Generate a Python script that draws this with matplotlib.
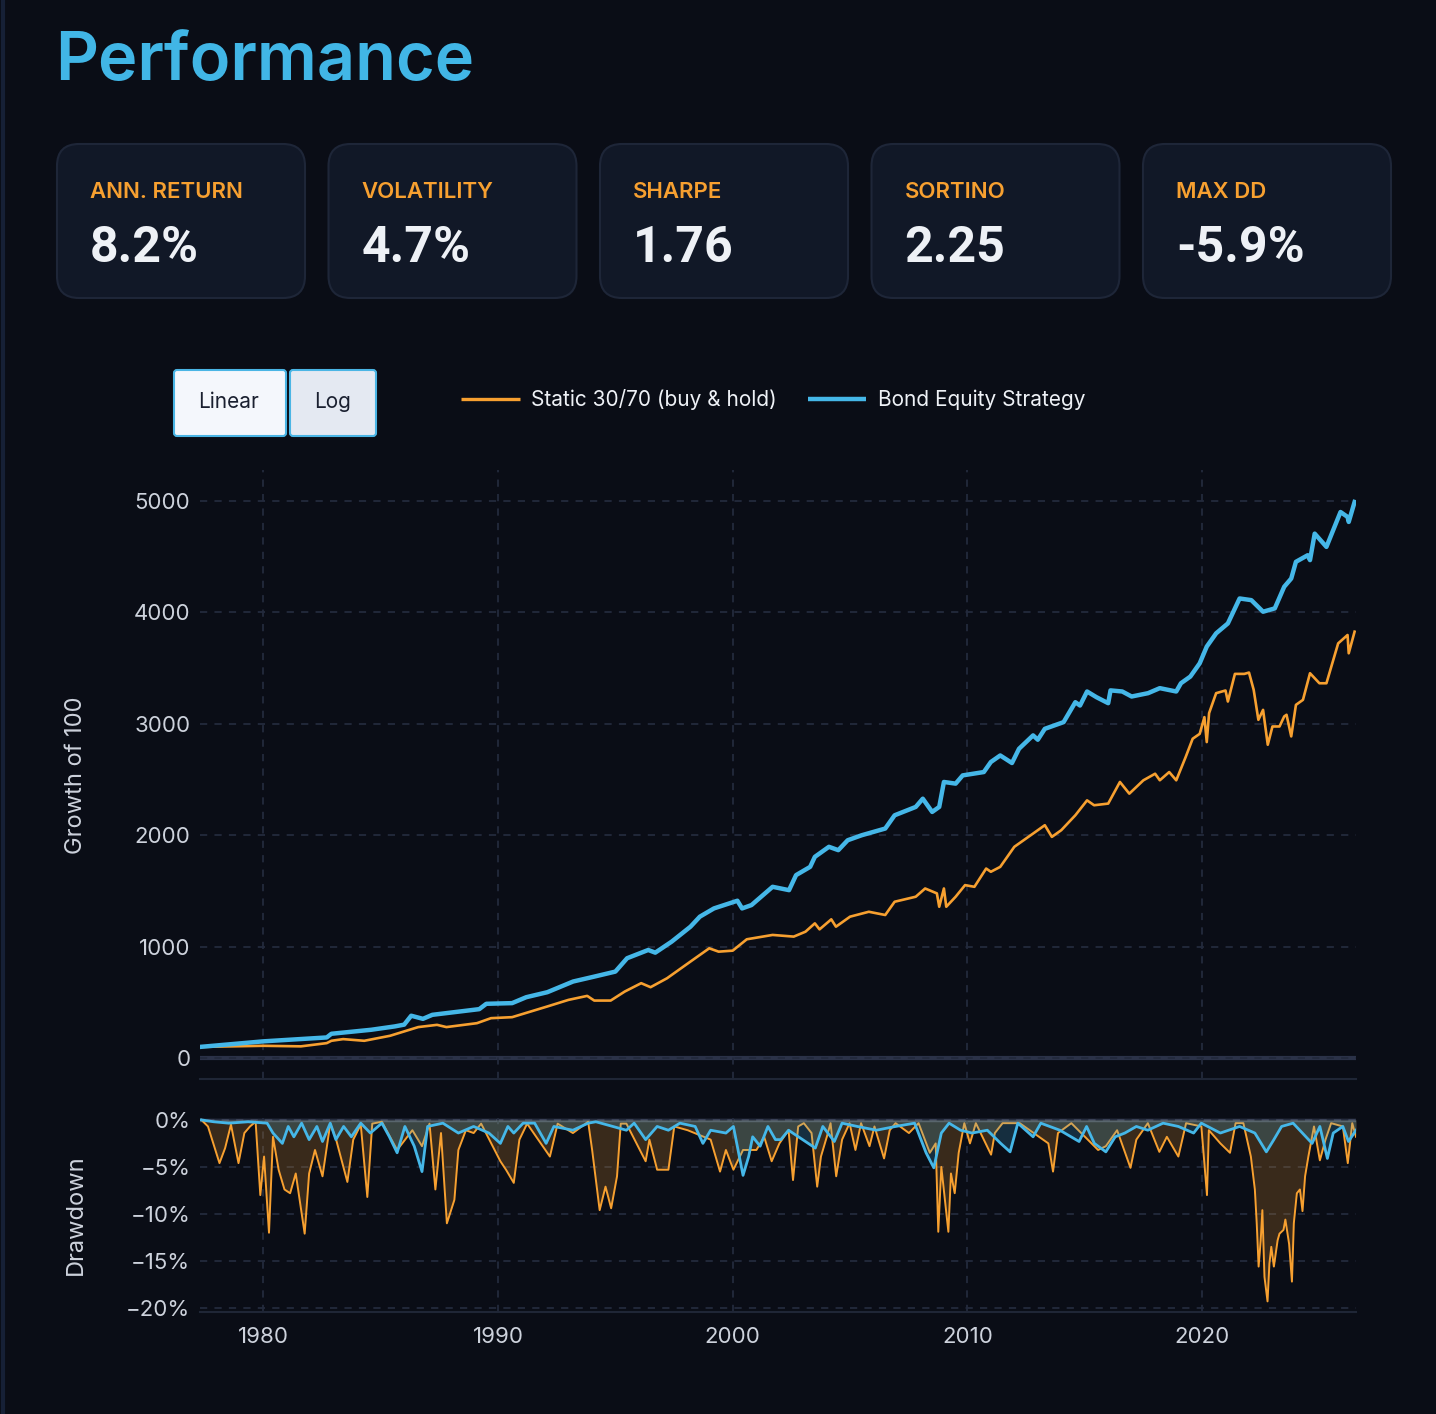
import matplotlib
matplotlib.use('Agg')
import matplotlib.pyplot as plt
from matplotlib.patches import FancyBboxPatch

plt.rcParams['font.family'] = ['Inter', 'DejaVu Sans']

# ---- data ----
kpi_labels = ['ANN. RETURN', 'VOLATILITY', 'SHARPE', 'SORTINO', 'MAX DD']
kpi_values = ['8.2%', '4.7%', '1.76', '2.25', '-5.9%']

series_names = ['Static 30/70 (buy & hold)', 'Bond Equity Strategy']

static_years = [1977.3, 1980.0, 1981.6, 1982.7, 1982.9, 1983.4, 1984.3, 1985.4, 1986.0, 1986.6,
                1987.4, 1987.8, 1989.1, 1989.7, 1990.6, 1992.1, 1993.0, 1993.8, 1994.1, 1994.8,
                1995.4, 1996.1, 1996.5, 1997.2, 1998.2, 1999.0, 1999.4, 2000.0, 2000.6, 2001.7,
                2002.6, 2003.1, 2003.5, 2003.7, 2004.2, 2004.4, 2005.0, 2005.8, 2006.5, 2006.9,
                2007.8, 2008.2, 2008.7, 2008.8, 2009.0, 2009.1, 2009.5, 2009.9, 2010.3, 2010.8,
                2011.0, 2011.4, 2012.0, 2012.8, 2013.3, 2013.6, 2014.0, 2014.6, 2015.1, 2015.4,
                2016.0, 2016.5, 2016.9, 2017.5, 2018.0, 2018.2, 2018.6, 2018.9, 2019.3, 2019.6,
                2019.9, 2020.1, 2020.2, 2020.3, 2020.6, 2021.0, 2021.1, 2021.4, 2021.8, 2022.0,
                2022.2, 2022.4, 2022.6, 2022.8, 2023.0, 2023.3, 2023.5, 2023.6, 2023.8, 2024.0,
                2024.3, 2024.6, 2025.0, 2025.3, 2025.8, 2026.2, 2026.25, 2026.5]
static_growth = [100, 110, 105, 134, 155, 170, 155, 200, 239, 278,
                 298, 278, 313, 358, 367, 463, 522, 558, 516, 516,
                 597, 672, 636, 716, 866, 985, 955, 964, 1066, 1105,
                 1090, 1134, 1209, 1155, 1245, 1179, 1269, 1313, 1284, 1403,
                 1448, 1522, 1478, 1358, 1522, 1358, 1448, 1552, 1537, 1701,
                 1672, 1716, 1896, 2015, 2090, 1985, 2045, 2179, 2313, 2269,
                 2284, 2478, 2373, 2493, 2552, 2493, 2567, 2493, 2701, 2866,
                 2910, 3060, 2836, 3096, 3275, 3299, 3200, 3448, 3448, 3460,
                 3305, 3036, 3125, 2812, 2976, 2976, 3066, 3081, 2887, 3170,
                 3215, 3454, 3364, 3364, 3722, 3797, 3633, 3827]

strat_years = [1977.3, 1980.0, 1982.7, 1982.9, 1984.6, 1985.6, 1986.0, 1986.3, 1986.8, 1987.2,
               1989.2, 1989.5, 1990.6, 1991.2, 1992.1, 1993.2, 1994.1, 1995.0, 1995.5, 1996.4,
               1996.7, 1997.4, 1998.2, 1998.6, 1999.2, 2000.2, 2000.4, 2000.8, 2001.7, 2002.4,
               2002.7, 2003.3, 2003.5, 2004.1, 2004.5, 2004.9, 2005.5, 2006.5, 2006.9, 2007.8,
               2008.1, 2008.5, 2008.8, 2009.0, 2009.5, 2009.8, 2010.7, 2011.0, 2011.4, 2011.9,
               2012.2, 2012.8, 2013.0, 2013.3, 2014.1, 2014.6, 2014.8, 2015.1, 2015.5, 2016.0,
               2016.1, 2016.6, 2017.0, 2017.7, 2018.2, 2018.9, 2019.1, 2019.5, 2019.9, 2020.2,
               2020.6, 2021.1, 2021.6, 2022.1, 2022.6, 2023.1, 2023.5, 2023.8, 2024.0, 2024.5,
               2024.6, 2024.8, 2025.3, 2025.9, 2026.2, 2026.25, 2026.5]
strat_growth = [100, 150, 185, 218, 254, 284, 300, 380, 352, 388,
                439, 487, 493, 546, 591, 687, 731, 776, 896, 970,
                946, 1045, 1179, 1269, 1343, 1412, 1343, 1373, 1537, 1507,
                1642, 1716, 1806, 1896, 1866, 1955, 2000, 2060, 2179, 2254,
                2328, 2209, 2254, 2478, 2463, 2537, 2567, 2657, 2716, 2648,
                2776, 2896, 2857, 2955, 3015, 3194, 3164, 3290, 3239, 3185,
                3300, 3290, 3245, 3275, 3320, 3290, 3364, 3424, 3543, 3693,
                3812, 3901, 4125, 4110, 4006, 4036, 4230, 4304, 4454, 4513,
                4469, 4707, 4588, 4901, 4857, 4812, 4991]

static_dd_years = [1977.36, 1977.64, 1978.13, 1978.37, 1978.62, 1978.94, 1979.19, 1979.43, 1979.67, 1979.87,
                   1980.03, 1980.24, 1980.41, 1980.65, 1980.90, 1981.14, 1981.38, 1981.76, 1981.95, 1982.20,
                   1982.52, 1982.85, 1983.09, 1983.58, 1983.83, 1984.15, 1984.43, 1984.64, 1985.05, 1985.70,
                   1986.35, 1986.76, 1987.08, 1987.33, 1987.57, 1987.82, 1988.14, 1988.31, 1988.63, 1988.96,
                   1989.28, 1990.10, 1990.34, 1990.67, 1990.91, 1991.24, 1992.21, 1992.54, 1993.19, 1993.84,
                   1994.01, 1994.33, 1994.58, 1994.82, 1995.07, 1995.23, 1995.47, 1996.29, 1996.45, 1996.78,
                   1997.26, 1997.51, 1998.08, 1999.06, 1999.46, 1999.71, 2000.03, 2000.44, 2001.01, 2001.34,
                   2001.66, 2001.99, 2002.38, 2002.57, 2002.79, 2003.03, 2003.36, 2003.60, 2003.76, 2004.01,
                   2004.17, 2004.41, 2004.66, 2004.98, 2005.23, 2005.47, 2005.83, 2006.04, 2006.45, 2006.69,
                   2006.94, 2007.51, 2007.92, 2008.40, 2008.65, 2008.76, 2008.89, 2009.19, 2009.30, 2009.46,
                   2009.63, 2009.87, 2010.11, 2010.36, 2011.01, 2011.17, 2011.50, 2012.23, 2013.45, 2013.65,
                   2013.86, 2014.43, 2015.57, 2015.90, 2016.38, 2016.95, 2017.20, 2017.69, 2018.18, 2018.50,
                   2018.99, 2019.32, 2019.97, 2020.21, 2020.29, 2020.78, 2021.19, 2021.43, 2021.76, 2022.08,
                   2022.25, 2022.33, 2022.41, 2022.50, 2022.57, 2022.66, 2022.79, 2022.87, 2022.95, 2023.06,
                   2023.22, 2023.30, 2023.47, 2023.55, 2023.71, 2023.83, 2023.91, 2024.04, 2024.17, 2024.28,
                   2024.39, 2024.53, 2024.77, 2025.02, 2025.26, 2025.50, 2026.00, 2026.21, 2026.40, 2026.56]
static_dd = [0.0, -0.7, -4.6, -3.0, -0.5, -4.6, -1.4, -0.7, -0.2, -8.0,
             -3.9, -12.0, -1.8, -5.3, -7.4, -7.8, -5.7, -12.1, -5.7, -3.2,
             -6.0, -0.4, -2.0, -6.6, -2.1, -0.5, -8.2, -0.4, -0.2, -3.2,
             -1.1, -2.8, -0.4, -7.4, -1.4, -11.0, -8.5, -3.2, -1.1, -1.4,
             -0.4, -4.4, -5.3, -6.7, -2.1, -0.4, -3.9, -0.4, -1.4, -0.2,
             -3.2, -9.6, -7.1, -9.4, -6.0, -0.4, -0.4, -4.4, -2.1, -5.3,
             -5.3, -0.7, -1.1, -2.1, -5.5, -3.2, -5.3, -3.2, -3.2, -1.8,
             -4.4, -2.5, -1.1, -6.4, -0.7, -0.35, -1.4, -7.1, -3.9, -1.8,
             -0.35, -6.0, -2.1, -0.35, -3.2, -0.35, -2.8, -0.7, -4.1, -1.1,
             -0.35, -1.4, -0.35, -3.5, -2.5, -11.9, -5.0, -11.9, -5.7, -7.8,
             -3.5, -0.35, -2.5, -0.35, -3.7, -1.4, -0.35, -0.35, -2.5, -5.5,
             -1.4, -0.35, -3.2, -2.8, -1.1, -5.1, -2.1, -0.35, -3.4, -1.8,
             -3.9, -0.35, -0.7, -8.0, -1.1, -2.5, -3.5, -0.35, -0.35, -3.9,
             -7.4, -11.0, -15.6, -12.8, -9.6, -16.7, -19.3, -15.3, -13.5, -15.6,
             -12.8, -12.1, -11.7, -10.6, -13.2, -17.2, -11.0, -7.8, -7.4, -9.7,
             -6.0, -3.9, -0.7, -4.3, -2.1, -0.35, -0.7, -4.6, -0.35, -1.8]

strat_dd_years = [1977.36, 1977.88, 1978.53, 1979.35, 1980.16, 1980.41, 1980.81, 1981.06, 1981.30, 1981.63,
                  1981.95, 1982.28, 1982.52, 1982.85, 1983.09, 1983.42, 1983.75, 1984.15, 1984.56, 1985.05,
                  1985.37, 1985.70, 1986.03, 1986.43, 1986.76, 1987.00, 1987.65, 1988.31, 1988.96, 1989.61,
                  1990.10, 1990.42, 1990.67, 1991.07, 1991.56, 1992.05, 1992.38, 1993.19, 1993.84, 1994.17,
                  1995.47, 1995.80, 1996.29, 1996.78, 1997.26, 1997.75, 1998.40, 1998.73, 1999.06, 1999.71,
                  2000.03, 2000.44, 2000.68, 2000.85, 2001.17, 2001.50, 2001.82, 2002.05, 2002.38, 2003.52,
                  2003.84, 2004.33, 2004.66, 2005.31, 2006.12, 2006.94, 2007.75, 2008.24, 2008.57, 2008.89,
                  2009.22, 2009.71, 2010.20, 2010.85, 2011.42, 2011.82, 2012.15, 2012.80, 2013.13, 2013.94,
                  2014.76, 2015.08, 2015.41, 2015.90, 2016.30, 2016.71, 2017.20, 2017.69, 2018.34, 2018.99,
                  2019.64, 2019.97, 2020.78, 2021.60, 2022.25, 2022.74, 2023.06, 2023.39, 2023.88, 2024.69,
                  2025.02, 2025.34, 2025.59, 2026.00, 2026.24, 2026.56]
strat_dd = [0.0, -0.2, -0.35, -0.2, -0.35, -1.4, -2.5, -0.7, -1.8, -0.35,
            -2.1, -0.7, -2.3, -0.35, -2.1, -0.7, -1.8, -0.35, -1.4, -0.35,
            -1.8, -3.5, -0.7, -2.8, -5.5, -0.7, -0.35, -1.4, -0.7, -1.4,
            -2.5, -0.7, -1.4, -0.35, -0.35, -2.5, -0.7, -1.1, -0.35, -0.2,
            -1.1, -0.35, -2.1, -0.7, -1.1, -0.35, -0.7, -2.5, -1.1, -1.4,
            -0.7, -5.9, -3.9, -1.8, -2.8, -0.7, -2.1, -2.1, -1.1, -3.0,
            -0.7, -2.3, -0.35, -0.7, -1.1, -0.7, -0.35, -3.5, -5.1, -1.4,
            -0.35, -1.1, -1.4, -1.1, -2.5, -3.4, -0.35, -1.8, -0.35, -1.1,
            -2.3, -0.7, -2.5, -3.4, -1.8, -1.4, -0.7, -1.1, -0.35, -0.7,
            -1.4, -0.35, -1.4, -0.7, -1.4, -3.4, -2.1, -0.7, -0.35, -2.5,
            -0.7, -4.1, -1.4, -0.7, -2.3, -1.1]

year_ticks = [1980, 1990, 2000, 2010, 2020]
growth_ticks = [0, 1000, 2000, 3000, 4000, 5000]
dd_ticks = [0, -5, -10, -15, -20]
dd_tick_labels = ['0%', '\u22125%', '\u221210%', '\u221215%', '\u221220%']

# ---- style ----
BG = '#0a0d16'
CARD = '#111827'
CARD_EDGE = '#1e2638'
ORANGE = '#f7a030'
BLUE = '#45b7e8'
TITLE = '#41b6e6'
TXT = '#eef1f6'
TICK = '#cdd2dc'
GRID = '#232a3c'

W, H = 1436, 1414
fig = plt.figure(figsize=(W / 100, H / 100), dpi=100, facecolor=BG)

# page layer in pixel coordinates
pg = fig.add_axes([0, 0, 1, 1], zorder=0)
pg.set_xlim(0, W)
pg.set_ylim(H, 0)
pg.axis('off')
pg.plot([3, 3], [0, H], color='#162036', lw=3)

pg.text(55, 80, 'Performance', color=TITLE, fontsize=48, fontweight='semibold', va='baseline', ha='left')

for i, (lab, val) in enumerate(zip(kpi_labels, kpi_values)):
    x0 = 57 + i * 271.5
    pg.add_patch(FancyBboxPatch((x0, 144), 248, 154, boxstyle='round,pad=0,rounding_size=22',
                                fc=CARD, ec=CARD_EDGE, lw=1.5))
    pg.text(x0 + 33, 192, lab, color=ORANGE, fontsize=16, fontweight='semibold', va='center', ha='left')
    pg.text(x0 + 33, 249, val, color=TXT, fontsize=36, fontweight='bold', va='center', ha='left',
            family=['Roboto', 'DejaVu Sans'])

# scale buttons
pg.add_patch(FancyBboxPatch((174, 370), 112, 66, boxstyle='round,pad=0,rounding_size=3',
                            fc='#f4f7fc', ec='#4ab5e5', lw=1.5))
pg.add_patch(FancyBboxPatch((290, 370), 86, 66, boxstyle='round,pad=0,rounding_size=3',
                            fc='#e4e9f2', ec='#4ab5e5', lw=1.5))
pg.text(229, 402, 'Linear', color='#1a2030', fontsize=15, va='center', ha='center')
pg.text(333, 402, 'Log', color='#1a2030', fontsize=15, va='center', ha='center')

# legend
pg.plot([461, 520], [399, 399], color=ORANGE, lw=2.4, solid_capstyle='butt')
pg.text(531, 400, series_names[0], color=TXT, fontsize=15, va='center', ha='left')
pg.plot([808, 866], [399, 399], color=BLUE, lw=3.2, solid_capstyle='butt')
pg.text(878, 400, series_names[1], color=TXT, fontsize=15, va='center', ha='left')

# ---- growth panel ----
ax = fig.add_axes([200 / W, 1 - 1079 / H, 1156 / W, (1079 - 470) / H], zorder=2)
ax.set_facecolor('none')
ax.axhline(0, color='#2b3248', lw=3, zorder=1)
ax.plot(static_years, static_growth, color=ORANGE, lw=1.9, zorder=3)
ax.plot(strat_years, strat_growth, color=BLUE, lw=3.2, zorder=4)
ax.set_xlim(1977.3, 2026.56)
ax.set_ylim(-188, 5278)
ax.set_xticks(year_ticks)
ax.set_yticks(growth_ticks)
ax.set_yticklabels([str(v) for v in growth_ticks])
ax.grid(True, color=GRID, lw=1.3, linestyle=(0, (4, 4)))
ax.tick_params(length=0, labelsize=16, colors=TICK, pad=7, labelbottom=False)
for s in ['top', 'right', 'left']:
    ax.spines[s].set_visible(False)
ax.spines['bottom'].set_color('#1f2636')
ax.spines['bottom'].set_linewidth(1.5)

# ---- drawdown panel ----
dx = fig.add_axes([200 / W, 1 - 1312 / H, 1156 / W, (1312 - 1118) / H], zorder=2)
dx.set_facecolor('none')
dx.fill_between(static_dd_years, static_dd, 0, color=ORANGE, alpha=0.2, lw=0, zorder=2)
dx.plot(static_dd_years, static_dd, color=ORANGE, lw=1.4, zorder=3)
dx.fill_between(strat_dd_years, strat_dd, 0, color=BLUE, alpha=0.2, lw=0, zorder=4)
dx.plot(strat_dd_years, strat_dd, color=BLUE, lw=2.0, zorder=5)
dx.axhline(0, color='#3a4157', lw=2.5, zorder=1)
dx.set_xlim(1977.3, 2026.56)
dx.set_ylim(-20.43, 0.2)
dx.set_xticks(year_ticks)
dx.set_xticklabels([str(y) for y in year_ticks])
dx.set_yticks(dd_ticks)
dx.set_yticklabels(dd_tick_labels)
dx.grid(True, color=GRID, lw=1.3, linestyle=(0, (4, 4)))
dx.tick_params(length=0, labelsize=16, colors=TICK, pad=7)
dx.tick_params(axis='x', pad=11)
for s in ['top', 'right', 'left']:
    dx.spines[s].set_visible(False)
dx.spines['bottom'].set_color('#1f2636')
dx.spines['bottom'].set_linewidth(1.5)

fig.text(76 / W, 1 - 775 / H, 'Growth of 100', rotation=90, color=TICK, fontsize=17,
         ha='center', va='center')
fig.text(76 / W, 1 - 1215 / H, 'Drawdown', rotation=90, color=TICK, fontsize=17,
         ha='center', va='center')

fig.savefig('out.png', dpi=100, facecolor=BG)
